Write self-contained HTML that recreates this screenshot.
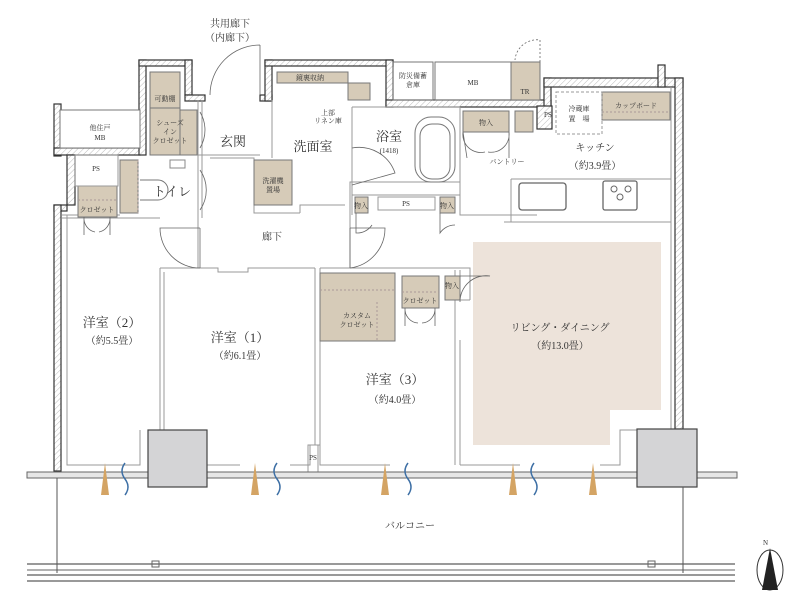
<!DOCTYPE html>
<html><head><meta charset="utf-8"><style>
html,body{margin:0;padding:0;background:#fff}
svg{display:block}
text{font-family:"Liberation Serif","Noto Serif CJK SC","Noto Sans CJK JP",serif;fill:#333}
.s{font-size:7px}
.m{font-size:13px}
.n{font-size:10px}
</style></head><body>
<svg width="797" height="607" viewBox="0 0 797 607" xmlns="http://www.w3.org/2000/svg">
<defs>
<pattern id="h" width="4" height="4" patternUnits="userSpaceOnUse" patternTransform="rotate(45)">
<rect width="4" height="4" fill="#fff"/><line x1="0" y1="0" x2="0" y2="4" stroke="#aaa" stroke-width="0.8"/>
</pattern>
</defs>
<g fill="none" stroke="#888" stroke-width="1">
<!-- LD tan floor -->
<polygon points="473,242 661,242 661,410 610,410 610,445 473,445" fill="#ede3da" stroke="none"/>

<!-- exterior hatched walls -->
<g fill="url(#h)" stroke="#333" stroke-width="1.2">
<rect x="54" y="104" width="7" height="52"/>
<rect x="54" y="148" width="86" height="7"/>
<rect x="67" y="155" width="8" height="50"/>
<rect x="54" y="205" width="13" height="6"/>
<rect x="54" y="205" width="7" height="266"/>
<rect x="139" y="60" width="7" height="95"/>
<rect x="139" y="60" width="53" height="6"/>
<rect x="185" y="60" width="7" height="35"/>
<rect x="185" y="95" width="20" height="6"/>
<rect x="260" y="95" width="12" height="6"/>
<rect x="265" y="60" width="7" height="41"/>
<rect x="265" y="60" width="128" height="6"/>
<rect x="386" y="60" width="7" height="47"/>
<rect x="386" y="100" width="165" height="7"/>
<rect x="544" y="78" width="7" height="29"/>
<rect x="544" y="78" width="139" height="9"/>
<rect x="658" y="65" width="7" height="22"/>
<rect x="675" y="78" width="8" height="351"/>
<rect x="537" y="106" width="15" height="23"/>
</g>

<!-- interior wall lines -->
<g stroke="#999">
<polyline points="62,218 160,218"/><polyline points="62,215 120,215"/>
<polyline points="160,268 160,430"/><polyline points="164,272 164,430"/>
<polyline points="160,268 218,268 218,272 248,272 248,268 315,268"/>
<polyline points="315,268 315,445"/><polyline points="320,268 320,445"/>
<polyline points="350,268 350,182 460,182"/>
<polyline points="198,100 198,268"/><polyline points="202,100 202,218"/>
<polyline points="198,155 260,155"/><polyline points="210,158 254,158 254,213 300,213"/>
<polyline points="272,100 272,158"/><polyline points="352,107 352,215"/>
<polyline points="300,213 300,205 345,205"/>
<polyline points="352,195 460,195 460,215"/>
<polyline points="460,107 460,215 537,215"/>
<polyline points="352,107 460,107"/>
<polyline points="455,270 455,465"/><polyline points="460,270 460,300 470,300"/>
<polyline points="320,268 470,268 470,300"/>
<polyline points="460,340 460,465"/>
<polyline points="67,215 67,465 140,465 140,430"/>
<polyline points="164,430 207,430 207,465 240,465"/>
<polyline points="290,465 310,465 310,445 320,445 320,465 390,465"/>
<polyline points="460,465 520,465"/>
<polyline points="600,465 620,465 620,430 637,430"/>
<polyline points="671,87 671,430"/>
<polyline points="504,222 671,222"/><polyline points="511,179 671,179"/><polyline points="511,179 511,222"/>
</g>

<!-- boxes / storage -->
<g fill="#d6cbb8" stroke="#777">
<rect x="150" y="72" width="30" height="36"/>
<rect x="150" y="108" width="30" height="47"/>
<rect x="180" y="110" width="17" height="45"/>
<rect x="120" y="160" width="18" height="53"/>
<rect x="78" y="186" width="39" height="31"/>
<rect x="254" y="160" width="38" height="45"/>
<rect x="277" y="72" width="71" height="11"/>
<rect x="348" y="83" width="22" height="17"/>
<rect x="511" y="62" width="29" height="38"/>
<rect x="602" y="92" width="68" height="28"/>
<rect x="463" y="111" width="46" height="21"/>
<rect x="515" y="111" width="18" height="21"/>
<rect x="355" y="197" width="13" height="16"/>
<rect x="440" y="197" width="15" height="16"/>
<rect x="320" y="273" width="75" height="68"/>
<rect x="402" y="276" width="37" height="32"/>
<rect x="445" y="276" width="15" height="24"/>
</g>
<g stroke="#a99" stroke-dasharray="2,2">
<line x1="320" y1="290" x2="395" y2="290"/><line x1="377" y1="302" x2="377" y2="341"/>
<line x1="402" y1="292" x2="439" y2="292"/><line x1="78" y1="200" x2="117" y2="200"/>
<line x1="602" y1="112" x2="670" y2="112"/><line x1="138" y1="160" x2="138" y2="213"/>
</g>
<rect x="556" y="92" width="46" height="42" stroke="#999" stroke-dasharray="3,2"/>
<rect x="60" y="110" width="80" height="38" fill="#fff" stroke="#777"/>
<rect x="393" y="62" width="40" height="38" stroke="#777"/>
<rect x="435" y="62" width="76" height="38" stroke="#777"/>
<rect x="75" y="155" width="43" height="31" stroke="#999"/>
<rect x="378" y="197" width="57" height="13" stroke="#999"/>
<rect x="308" y="445" width="10" height="30" stroke="#999"/>
<!-- fixtures -->
<rect x="415" y="117" width="40" height="65" rx="16" stroke="#777"/>
<rect x="420" y="124" width="30" height="55" rx="12" stroke="#777"/>
<path d="M140,180 h18 a10,10 0 0 1 0,20 h-18" stroke="#777"/>
<rect x="519" y="183" width="47" height="27" rx="3" stroke="#666" stroke-width="1.3"/>
<rect x="603" y="181" width="34" height="29" rx="2" stroke="#666" stroke-width="1.3"/>
<circle cx="614" cy="189" r="3" stroke="#666"/><circle cx="628" cy="189" r="3" stroke="#666"/><circle cx="620" cy="197" r="3" stroke="#666"/>
<rect x="170" y="160" width="15" height="8" stroke="#888"/>
<!-- doors -->
<g stroke="#666" stroke-width="0.8">
<path d="M260,45 v50 M260,45 A50,50 0 0 0 210,95"/>
<path d="M200,112 A35,35 0 0 1 200,148"/>
<path d="M200,170 A35,35 0 0 1 200,210"/>
<path d="M200,228 v40 M200,228 H160 A40,40 0 0 0 200,268"/>
<path d="M350,228 v40 M350,228 h35 A40,40 0 0 1 350,268"/>
<path d="M352,148 A38,38 0 0 1 395,173 L352,185"/>
<path d="M84,217 v18 M84,217 A14,14 0 0 0 95,232 M110,217 v18 M110,217 A14,14 0 0 1 99,232"/>
<path d="M405,308 v18 M405,308 A14,14 0 0 0 418,323 M435,308 v18 M435,308 A14,14 0 0 1 422,323"/>
<path d="M463,132 l4,26 M463,132 A18,18 0 0 0 485,152 M509,132 v26 M509,132 A18,18 0 0 1 488,152"/>
<path d="M460,276 h30 A26,26 0 0 0 460,302"/>
<path d="M356,213 v20 A18,18 0 0 0 372,225"/>
<path d="M440,213 v20 A18,18 0 0 1 455,225"/>
<path d="M540,62 v-22 A22,22 0 0 0 515,60" stroke-dasharray="2,2"/>
</g>

<!-- balcony -->
<rect x="27" y="472" width="710" height="6" fill="#e6e6e6" stroke="#666"/>
<rect x="148" y="430" width="59" height="57" fill="#d4d4d6" stroke="#444" stroke-width="1.2"/>
<rect x="637" y="429" width="60" height="58" fill="#d4d4d6" stroke="#444" stroke-width="1.2"/>
<g stroke="#999" stroke-width="2">
<line x1="27" y1="564" x2="735" y2="564"/><line x1="27" y1="575" x2="735" y2="575"/><line x1="27" y1="581" x2="735" y2="581"/>
</g>
<line x1="27" y1="570" x2="735" y2="570" stroke="#666"/>
<line x1="57" y1="478" x2="57" y2="573" stroke="#555"/>
<line x1="683" y1="487" x2="683" y2="573" stroke="#555"/>
<rect x="152" y="561" width="7" height="6" stroke="#666"/><rect x="648" y="561" width="7" height="6" stroke="#666"/>
<g fill="#d4a464" stroke="none">
<polygon points="105,463 101,495 109,495"/><polygon points="255,463 251,495 259,495"/>
<polygon points="385,463 381,495 389,495"/><polygon points="513,463 509,495 517,495"/>
<polygon points="593,463 589,495 597,495"/>
</g>
<g stroke="#3d6fa5" stroke-width="1.5">
<path d="M125,463 q-6,8 0,16 q6,8 0,16"/><path d="M277,463 q-6,8 0,16 q6,8 0,16"/>
<path d="M408,463 q-6,8 0,16 q6,8 0,16"/><path d="M534,463 q-6,8 0,16 q6,8 0,16"/>
</g>
<ellipse cx="770" cy="570" rx="13" ry="20" stroke="#333"/>
<polygon points="770,548 762,590 778,590" fill="#222" stroke="none"/>
</g>

<!-- labels -->
<text x="230" y="27" class="n" text-anchor="middle">共用廊下</text>
<text x="230" y="41" class="n" text-anchor="middle">（内廊下）</text>
<text x="233" y="146" class="m" text-anchor="middle">玄関</text>
<text x="313" y="151" class="m" text-anchor="middle">洗面室</text>
<text x="389" y="141" class="m" text-anchor="middle">浴室</text>
<text x="389" y="153" class="s" text-anchor="middle">(1418)</text>
<text x="172" y="196" class="m" text-anchor="middle">トイレ</text>
<text x="272" y="240" class="n" text-anchor="middle">廊下</text>
<text x="595" y="151" class="n" text-anchor="middle">キッチン</text>
<text x="595" y="169" class="n" text-anchor="middle">（約3.9畳）</text>
<text x="112" y="327" class="m" text-anchor="middle">洋室（2）</text>
<text x="112" y="344" class="n" text-anchor="middle">（約5.5畳）</text>
<text x="240" y="342" class="m" text-anchor="middle">洋室（1）</text>
<text x="240" y="359" class="n" text-anchor="middle">（約6.1畳）</text>
<text x="395" y="384" class="m" text-anchor="middle">洋室（3）</text>
<text x="395" y="403" class="n" text-anchor="middle">（約4.0畳）</text>
<text x="560" y="331" class="n" text-anchor="middle">リビング・ダイニング</text>
<text x="560" y="349" class="n" text-anchor="middle">（約13.0畳）</text>
<text x="410" y="529" class="n" text-anchor="middle">バルコニー</text>
<text x="763" y="545" class="s">N</text>
<text x="100" y="130" class="s" text-anchor="middle">他住戸</text>
<text x="100" y="140" class="s" text-anchor="middle">MB</text>
<text x="165" y="101" class="s" text-anchor="middle">可動棚</text>
<text x="170" y="125" class="s" text-anchor="middle">シューズ</text>
<text x="170" y="134" class="s" text-anchor="middle">イン</text>
<text x="170" y="143" class="s" text-anchor="middle">クロゼット</text>
<text x="96" y="171" class="s" text-anchor="middle">PS</text>
<text x="97" y="212" class="s" text-anchor="middle">クロゼット</text>
<text x="296" y="80" class="s">鏡裏収納</text>
<text x="328" y="115" class="s" text-anchor="middle">上部</text>
<text x="328" y="123" class="s" text-anchor="middle">リネン庫</text>
<text x="273" y="183" class="s" text-anchor="middle">洗濯機</text>
<text x="273" y="192" class="s" text-anchor="middle">置場</text>
<text x="413" y="78" class="s" text-anchor="middle">防災備蓄</text>
<text x="413" y="87" class="s" text-anchor="middle">倉庫</text>
<text x="473" y="85" class="s" text-anchor="middle">MB</text>
<text x="525" y="94" class="s" text-anchor="middle">TR</text>
<text x="544" y="117" class="s">PS</text>
<text x="579" y="111" class="s" text-anchor="middle">冷蔵庫</text>
<text x="579" y="121" class="s" text-anchor="middle">置　場</text>
<text x="636" y="108" class="s" text-anchor="middle">カップボード</text>
<text x="486" y="125" class="s" text-anchor="middle">物入</text>
<text x="507" y="164" class="s" text-anchor="middle">パントリー</text>
<text x="361" y="208" class="s" text-anchor="middle">物入</text>
<text x="406" y="206" class="s" text-anchor="middle">PS</text>
<text x="447" y="208" class="s" text-anchor="middle">物入</text>
<text x="357" y="318" class="s" text-anchor="middle">カスタム</text>
<text x="357" y="327" class="s" text-anchor="middle">クロゼット</text>
<text x="420" y="303" class="s" text-anchor="middle">クロゼット</text>
<text x="452" y="288" class="s" text-anchor="middle">物入</text>
<text x="313" y="460" class="s" text-anchor="middle">PS</text>
</svg>
</body></html>
